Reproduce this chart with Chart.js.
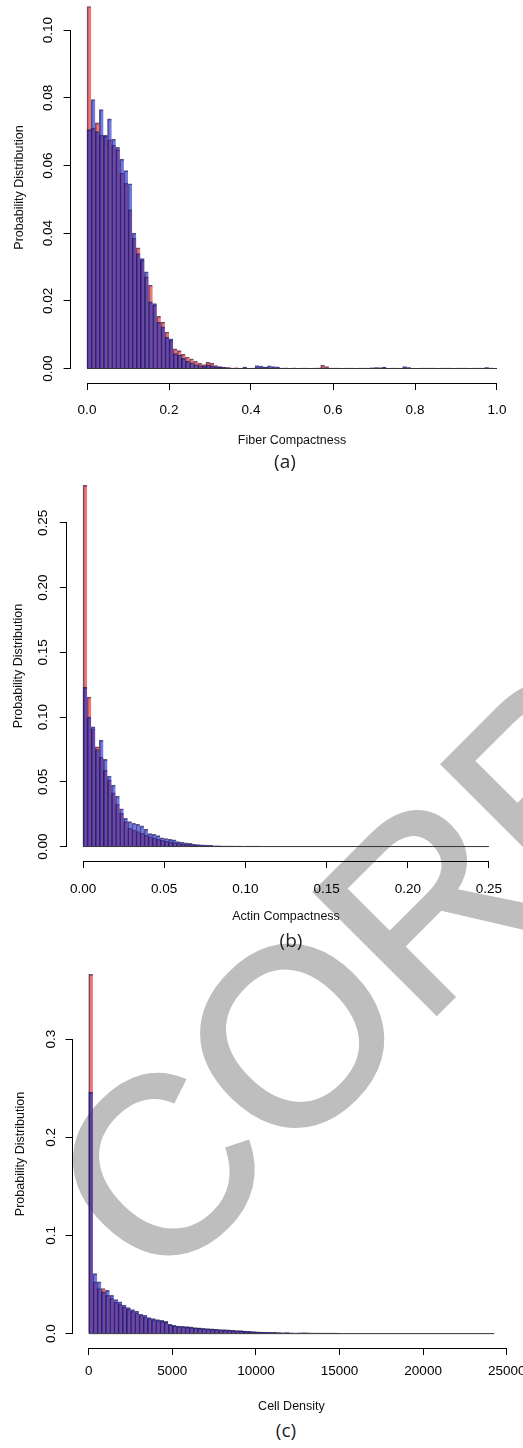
<!DOCTYPE html>
<html>
<head>
<meta charset="utf-8">
<script src="https://cdn.jsdelivr.net/npm/chart.js@4.4.1/dist/chart.umd.min.js"></script>
<style>
html,body{margin:0;padding:0;background:#fff;}
body{position:relative;width:523px;height:1448px;overflow:hidden;}
canvas{position:absolute;left:0;z-index:1;}
.cap{position:absolute;z-index:1;width:60px;margin-left:-30px;text-align:center;font:19px/1 "Open Sans","Noto Sans",sans-serif;color:#222;}
#wm{position:absolute;z-index:0;left:8px;top:1144px;transform-origin:0 0;transform:rotate(-45deg);
  font:250px/1 "Liberation Sans",Arial,sans-serif;color:#bebebe;-webkit-text-stroke:4px #bebebe;
  white-space:nowrap;pointer-events:none;}
</style>
</head>
<body>
<div id="wm">CORRECTED PROOF</div>
<canvas id="histA"></canvas>
<canvas id="histB"></canvas>
<canvas id="histC"></canvas>
<div class="cap" style="left:285px;top:452px">(a)</div>
<div class="cap" style="left:291px;top:931px">(b)</div>
<div class="cap" style="left:286px;top:1421px">(c)</div>
<script>
// (a) fiber compactness, bins of 0.01 from 0 to 1
var fiberBinStart = 0, fiberBinWidth = 0.01;
var fiberRed = [
  0.107,0.071,0.0726,0.069,0.0686,0.0676,0.066,0.0647,0.0577,0.0548,
  0.0469,0.0385,0.0357,0.032,0.0271,0.0246,0.0187,0.0154,0.0137,0.0108,
  0.0083,0.0058,0.0053,0.0042,0.0034,0.0029,0.0022,0.0016,0.0012,0.0019,
  0.0016,0.0009,0.0006,0.0004,0.0003,0.0001,0.0002,0,0.0002,0,
  0.0001,0.0003,0.0002,0.0003,0.0002,0.0002,0,0.0001,0.0001,0,
  0.0001,0,0.0001,0,0,0.0001,0.0001,0.0010,0.0006,0.0001,
  0,0.0001,0,0,0.0001,0,0,0.0001,0,0.0001,
  0.0001,0.0002,0.0002,0,0,0.0001,0,0.0002,0.0003,0,
  0,0.0001,0,0.0001,0,0,0.0001,0,0.0001,0,
  0,0.0001,0,0,0.0001,0,0.0001,0.0002,0.0001,0];
var fiberBlue = [
  0.0706,0.0795,0.070,0.0765,0.069,0.0738,0.0678,0.0654,0.0619,0.0585,
  0.0546,0.040,0.034,0.0325,0.0286,0.0197,0.0192,0.0137,0.0123,0.0093,
  0.0088,0.0044,0.0040,0.0030,0.0022,0.0017,0.0012,0.0009,0.0007,0.0011,
  0.0008,0.0005,0.0004,0.0003,0.0002,0,0.0001,0,0.0004,0,
  0,0.0009,0.0007,0.0004,0.0008,0.0006,0.0005,0,0.0001,0,
  0.0001,0,0,0.0001,0,0,0.0001,0.0002,0.0001,0,
  0.0001,0,0,0.0001,0,0,0.0001,0,0.0001,0.0002,
  0.0003,0.0002,0.0004,0,0.0001,0,0,0.0006,0.0002,0,
  0,0,0.0001,0,0.0001,0,0,0.0001,0,0,
  0.0001,0,0.0001,0,0,0.0001,0,0.0003,0.0001,0];
var fiberXTicks = [0, 0.2, 0.4, 0.6, 0.8, 1.0];
var fiberYTicks = [0, 0.02, 0.04, 0.06, 0.08, 0.10];

// (b) actin compactness, bins of 0.0025 from 0 to 0.25
var actinBinStart = 0, actinBinWidth = 0.0025;
var actinRed = [
  0.279,0.1155,0.091,0.077,0.069,0.059,0.0514,0.0416,0.0329,0.0257,
  0.0193,0.0141,0.0128,0.0116,0.0103,0.009,0.0078,0.0068,0.0058,0.0048,
  0.0041,0.0036,0.003,0.0025,0.0021,0.0018,0.0015,0.0012,0.001,0.0008,
  0.0007,0.0005,0.0004,0.0003,0.0003,0.0002,0.0001,0,0.0001,0,
  0,0.0001,0,0,0,0,0,0,0,0,
  0,0,0,0,0,0,0,0,0,0,
  0,0,0,0,0,0,0,0,0,0,
  0,0,0,0,0,0,0,0,0,0,
  0,0,0,0,0,0,0,0,0,0,
  0,0,0,0,0,0,0,0,0,0];
var actinBlue = [
  0.123,0.100,0.0925,0.075,0.0822,0.0673,0.0545,0.0475,0.039,0.0292,
  0.0218,0.0193,0.018,0.0172,0.016,0.0135,0.010,0.0095,0.0085,0.0068,
  0.0062,0.0055,0.0052,0.0038,0.0033,0.0028,0.0024,0.0018,0.0016,0.0013,
  0.0011,0.0009,0.0006,0.0005,0.0004,0.0003,0.0003,0.0002,0.0002,0,
  0.0002,0,0.0003,0.0001,0,0,0,0,0,0,
  0,0,0,0,0,0,0,0,0,0,
  0,0,0,0,0,0,0,0,0,0,
  0,0,0,0,0,0,0,0,0,0,
  0,0,0,0,0,0,0,0,0,0,
  0,0,0,0,0,0,0,0,0,0];
var actinXTicks = [0, 0.05, 0.10, 0.15, 0.20, 0.25];
var actinYTicks = [0, 0.05, 0.10, 0.15, 0.20, 0.25];

// (c) cell density, bins of 250 from 0 to 24250
var cellBinStart = 0, cellBinWidth = 250;
var cellRed = [
  0.366,0.0527,0.046,0.046,0.039,0.036,0.032,0.030,0.027,0.025,
  0.0228,0.021,0.0185,0.017,0.0152,0.014,0.0132,0.0125,0.0115,0.009,
  0.0079,0.0072,0.0069,0.0066,0.0062,0.0057,0.0053,0.005,0.0047,0.0045,
  0.0042,0.0038,0.0036,0.0034,0.003,0.0028,0.0026,0.0023,0.0021,0.0018,
  0.0016,0.0014,0.0012,0.0011,0.001,0.0008,0.0007,0.0008,0.0006,0.0004,
  0.0006,0.0007,0.0005,0.0005,0.0004,0.0002,0.0001,0.0001,0.0004,0,
  0,0,0,0,0,0,0,0,0,0,
  0,0,0,0,0,0,0,0,0,0,
  0,0,0,0,0,0,0,0,0,0,
  0,0,0,0,0,0,0];
var cellBlue = [
  0.2457,0.0612,0.0527,0.0425,0.044,0.039,0.0347,0.0323,0.029,0.0265,
  0.0245,0.023,0.0197,0.0187,0.0163,0.0153,0.0143,0.0136,0.0126,0.0095,
  0.0085,0.0078,0.0075,0.0072,0.0068,0.0062,0.0058,0.0055,0.0052,0.005,
  0.0047,0.0042,0.004,0.0038,0.0034,0.0032,0.003,0.0026,0.0024,0.002,
  0.0018,0.0016,0.0014,0.0013,0.0012,0.001,0.0009,0.001,0.0007,0.0005,
  0.0008,0.0009,0.0007,0.0006,0.0005,0.0003,0.0002,0.0001,0.0006,0.0001,
  0,0,0,0,0,0,0,0,0,0,
  0,0,0,0,0,0,0,0,0,0,
  0,0,0,0,0,0,0,0,0,0,
  0,0,0,0,0,0,0];
var cellXTicks = [0, 5000, 10000, 15000, 20000, 25000];
var cellYTicks = [0, 0.1, 0.2, 0.3];

var FONT = "'Liberation Sans', Arial, sans-serif";
var CANVAS_W = 560;

// R style axis line: only spans first to last tick
var axisLines = {
  id: 'axisLines',
  afterDraw: function(chart) {
    var ctx = chart.ctx, a = chart.chartArea;
    var xs = chart.scales.x, ys = chart.scales.y;
    var xt = xs.ticks, yt = ys.ticks;
    ctx.save();
    ctx.strokeStyle = '#000';
    ctx.lineWidth = 1;
    ctx.beginPath();
    var yb = Math.round(a.bottom) + 0.5;
    ctx.moveTo(xs.getPixelForValue(xt[0].value), yb);
    ctx.lineTo(xs.getPixelForValue(xt[xt.length - 1].value), yb);
    var xl = Math.round(a.left) - 0.5;
    ctx.moveTo(xl, ys.getPixelForValue(yt[0].value));
    ctx.lineTo(xl, ys.getPixelForValue(yt[yt.length - 1].value));
    ctx.stroke();
    ctx.restore();
  }
};

function histPanel(id, p) {
  var cv = document.getElementById(id);
  var top = Math.round(p.area.top) - 30;
  var H = Math.round(p.area.bottom) - top + p.xAxisH;
  cv.width = CANVAS_W; cv.height = H;
  cv.style.width = CANVAS_W + 'px'; cv.style.height = H + 'px';
  cv.style.top = top + 'px';

  var n = p.red.length;
  var lo = p.binStart, hi = p.binStart + p.binWidth * n;
  var xext = 0.04 * (hi - lo);
  var ymax = Math.max.apply(null, p.red.concat(p.blue));
  var yext = 0.04 * ymax;
  function pts(arr) {
    return arr.map(function(v, i) { return {x: lo + p.binWidth * (i + 0.5), y: v}; });
  }
  var barBorder = {left: 1, top: 1, right: 0, bottom: 0};

  new Chart(cv, {
    type: 'bar',
    data: {
      datasets: [
        {type: 'line', data: [{x: lo, y: 0}, {x: hi, y: 0}], borderColor: '#333',
         borderWidth: 1, pointRadius: 0, order: 0},
        {data: pts(p.blue), backgroundColor: 'rgba(30,40,200,0.62)', borderColor: 'rgba(25,20,60,0.7)',
         borderWidth: barBorder, borderSkipped: false, grouped: false, barPercentage: 1, categoryPercentage: 1, order: 1},
        {data: pts(p.red), backgroundColor: 'rgba(225,30,30,0.6)', borderColor: 'rgba(25,20,60,0.7)',
         borderWidth: barBorder, borderSkipped: false, grouped: false, barPercentage: 1, categoryPercentage: 1, order: 2}
      ]
    },
    options: {
      responsive: false,
      animation: false,
      devicePixelRatio: 1,
      layout: {padding: {top: Math.round(p.area.top) - top, left: 0, right: CANVAS_W - p.area.right, bottom: 0}},
      plugins: {legend: {display: false}, tooltip: {enabled: false}},
      scales: {
        x: {
          type: 'linear', min: lo - xext, max: hi + xext, offset: false,
          afterBuildTicks: function(ax) { ax.ticks = p.xTicks.map(function(v) { return {value: v}; }); },
          afterFit: function(ax) { ax.height = p.xAxisH; },
          grid: {drawOnChartArea: false, drawTicks: true, tickLength: 7, color: '#000', offset: false},
          border: {display: false},
          ticks: {padding: p.xPad, autoSkip: false, maxRotation: 0, color: '#000',
                  font: {family: FONT, size: 13.5}, callback: p.xFmt},
          title: {display: true, text: p.xTitle, color: '#111', padding: {top: 4, bottom: 0},
                  font: {family: FONT, size: 12.5}}
        },
        y: {
          type: 'linear', min: -yext, max: ymax + yext,
          afterBuildTicks: function(ax) { ax.ticks = p.yTicks.map(function(v) { return {value: v}; }); },
          afterFit: function(ax) { ax.width = p.area.left; },
          grid: {drawOnChartArea: false, drawTicks: true, tickLength: 7, color: '#000'},
          border: {display: false},
          ticks: {padding: p.yPad, minRotation: 90, maxRotation: 90, crossAlign: 'center', color: '#000',
                  font: {family: FONT, size: 13.5}, callback: p.yFmt},
          title: {display: true, text: 'Probability Distribution', color: '#111',
                  padding: {top: p.yTitlePad, bottom: 0}, font: {family: FONT, size: 12.5}}
        }
      }
    },
    plugins: [axisLines]
  });
}

histPanel('histA', {
  red: fiberRed, blue: fiberBlue, binStart: fiberBinStart, binWidth: fiberBinWidth,
  xTicks: fiberXTicks, yTicks: fiberYTicks, xTitle: 'Fiber Compactness',
  xFmt: function(v) { return v.toFixed(1); }, yFmt: function(v) { return v.toFixed(2); },
  area: {left: 70.6, right: 513.4, top: -8.5, bottom: 383},
  xAxisH: 65, xPad: 12, yPad: 2.2, yTitlePad: 12.5
});
histPanel('histB', {
  red: actinRed, blue: actinBlue, binStart: actinBinStart, binWidth: actinBinWidth,
  xTicks: actinXTicks, yTicks: actinYTicks, xTitle: 'Actin Compactness',
  xFmt: function(v) { return v.toFixed(2); }, yFmt: function(v) { return v.toFixed(2); },
  area: {left: 66.8, right: 505.2, top: 470.7, bottom: 861},
  xAxisH: 63, xPad: 13, yPad: 3, yTitlePad: 11
});
histPanel('histC', {
  red: cellRed, blue: cellBlue, binStart: cellBinStart, binWidth: cellBinWidth,
  xTicks: cellXTicks, yTicks: cellYTicks, xTitle: 'Cell Density',
  xFmt: function(v) { return String(v); }, yFmt: function(v) { return v.toFixed(1); },
  area: {left: 72.5, right: 510.4, top: 960, bottom: 1348},
  xAxisH: 66, xPad: 8, yPad: 5.3, yTitlePad: 13.5
});
</script>
</body>
</html>
